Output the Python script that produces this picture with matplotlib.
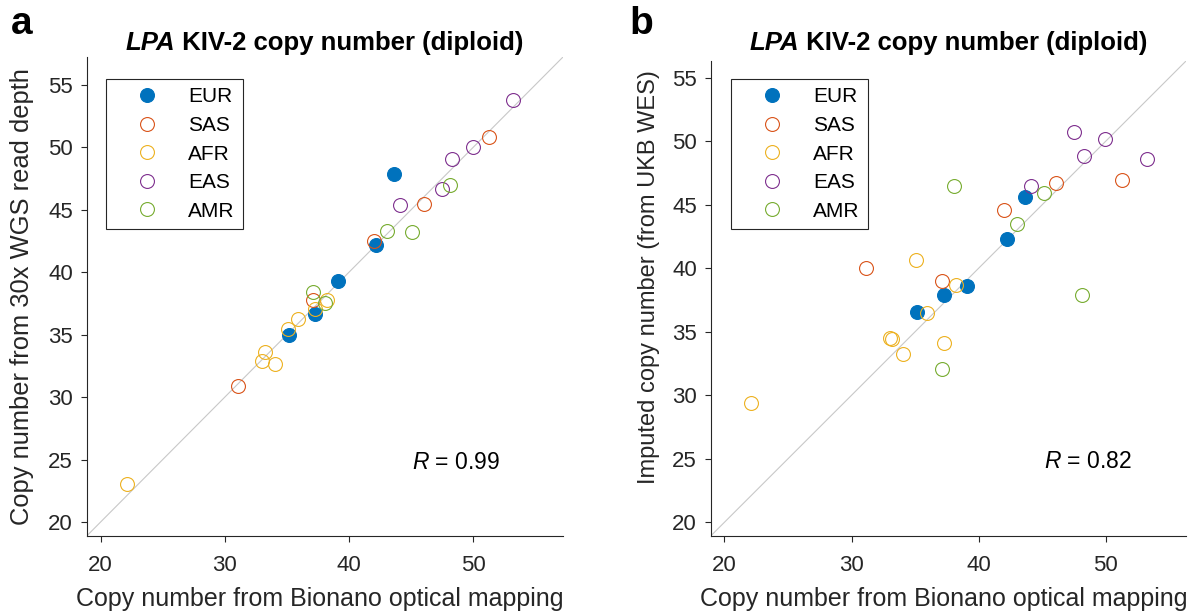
import matplotlib
matplotlib.use('Agg')
import matplotlib.pyplot as plt

plt.rcParams['font.family'] = ['Liberation Sans', 'DejaVu Sans']
plt.rcParams['mathtext.fontset'] = 'custom'
plt.rcParams['mathtext.rm'] = 'Liberation Sans'
plt.rcParams['mathtext.it'] = 'Liberation Sans:italic'

# populations and MATLAB default colours
pops = ['EUR', 'SAS', 'AFR', 'EAS', 'AMR']
pop_colors = ['#0072BD', '#D95319', '#EDB120', '#7E2F8E', '#77AC30']

# copy number from Bionano optical mapping (x, shared by both panels)
eur_bionano = [43.65, 42.2, 39.1, 37.3, 35.17]
sas_bionano = [51.3, 46.05, 42.0, 37.1, 31.1]
afr_bionano = [38.25, 37.26, 35.92, 35.08, 33.2, 33.02, 34.05, 22.1]
eas_bionano = [53.2, 49.95, 48.3, 47.5, 44.08]
amr_bionano = [48.1, 43.03, 45.1, 37.1, 38.08]

# panel a: copy number from 30x WGS read depth
eur_wgs = [47.9, 42.15, 39.26, 36.67, 35.0]
sas_wgs = [50.8, 45.47, 42.47, 37.8, 30.86]
afr_wgs = [37.76, 37.07, 36.27, 35.47, 33.6, 32.87, 32.68, 23.0]
eas_wgs = [53.8, 50.0, 49.05, 46.7, 45.4]
amr_wgs = [46.97, 43.3, 43.2, 38.4, 37.55]

# panel b: imputed copy number from UKB WES
eur_wes = [45.59, 42.27, 38.58, 37.87, 36.56]
sas_wes = [46.95, 46.69, 44.6, 39.0, 40.05]
afr_wes = [38.71, 34.08, 36.48, 40.64, 34.4, 34.52, 33.24, 29.37]
eas_wes = [48.6, 50.14, 48.86, 50.75, 46.45]
amr_wes = [37.87, 43.45, 45.93, 32.04, 46.43]

r_values = ['0.99', '0.82']
ticks = [20, 25, 30, 35, 40, 45, 50, 55]

xs = [eur_bionano, sas_bionano, afr_bionano, eas_bionano, amr_bionano]
ys_a = [eur_wgs, sas_wgs, afr_wgs, eas_wgs, amr_wgs]
ys_b = [eur_wes, sas_wes, afr_wes, eas_wes, amr_wes]

W, H = 1202, 613
fig = plt.figure(figsize=(W / 100, H / 100), dpi=100)

ax_gray = '#262626'
tick_fs = 16
leg_fs = 15
title_fs = 18.5


def draw_panel(rect, ys, lims, ylabel, ylab_fs, ylab_pos, r_text, leg_anchor):
    ax = fig.add_axes(rect)
    ax.plot(lims, lims, color='#c8c8c8', lw=0.8, zorder=1)
    for pop, col, x, y in zip(pops, pop_colors, xs, ys):
        if pop == 'EUR':
            ax.plot(x, y, 'o', ms=10, mfc=col, mec=col, mew=0.8, label=pop, zorder=2)
        else:
            ax.plot(x, y, 'o', ms=10, mfc='none', mec=col, mew=0.8, label=pop, zorder=2)
    ax.set_xlim(lims)
    ax.set_ylim(lims)
    ax.set_xticks([20, 30, 40, 50])
    ax.set_yticks(ticks)
    for s in ['top', 'right']:
        ax.spines[s].set_visible(False)
    for s in ['left', 'bottom']:
        ax.spines[s].set_color(ax_gray)
        ax.spines[s].set_linewidth(0.8)
    ax.tick_params(axis='both', direction='out', length=4, width=0.8,
                   color=ax_gray, labelcolor=ax_gray, labelsize=tick_fs)
    ax.tick_params(axis='x', pad=10)
    ax.tick_params(axis='y', pad=6)
    ax.set_xlabel('Copy number from Bionano optical mapping', fontsize=18,
                  color=ax_gray, va='top')
    ax.xaxis.set_label_coords(0.49, -0.108)
    ax.set_ylabel(ylabel, fontsize=ylab_fs, color=ax_gray)
    ax.yaxis.set_label_coords(*ylab_pos)
    ax.text(45.1, 24.8, r'$\it{R}$ = ' + r_text, fontsize=16.5, va='center', ha='left')
    leg = ax.legend(loc='upper left', bbox_to_anchor=leg_anchor, borderaxespad=0,
                    fontsize=leg_fs, fancybox=False, edgecolor=ax_gray, framealpha=1,
                    handlelength=3.14, handletextpad=0.4, labelspacing=0.46,
                    borderpad=0.4, numpoints=1)
    leg.get_frame().set_linewidth(0.8)
    return ax


ax_a = draw_panel([87 / W, 1 - 535.7 / H, 475.6 / W, 478.3 / H], ys_a, (18.9, 57.2),
                  'Copy number from 30x WGS read depth', 18.4, (-0.111, 0.5),
                  r_values[0], (0.0393, 0.9548))
ax_b = draw_panel([711 / W, 1 - 535.7 / H, 475 / W, 474.7 / H], ys_b, (18.95, 56.3),
                  'Imputed copy number (from UKB WES)', 17.0, (-0.107, 0.545),
                  r_values[1], (0.0415, 0.962))

# titles: italic-bold gene name followed by bold text, centred over each axes
fig.canvas.draw()
renderer = fig.canvas.get_renderer()
for ax in [ax_a, ax_b]:
    t1 = fig.text(0, 0, 'LPA', fontsize=title_fs, fontweight='bold', style='italic',
                  va='baseline')
    t2 = fig.text(0, 0, ' KIV-2 copy number (diploid)', fontsize=title_fs,
                  fontweight='bold', va='baseline')
    w1 = t1.get_window_extent(renderer).width
    w2 = t2.get_window_extent(renderer).width
    bb = ax.get_window_extent(renderer)
    cx = (bb.x0 + bb.x1) / 2
    x0 = cx - (w1 + w2) / 2
    yb = H - 50
    t1.set_position((x0 / W, yb / H))
    t2.set_position(((x0 + w1) / W, yb / H))

fig.text(11 / W, 1 - 34 / H, 'a', fontsize=28, fontweight='bold', va='baseline')
fig.text(629 / W, 1 - 34 / H, 'b', fontsize=28, fontweight='bold', va='baseline')

fig.savefig('out.png', dpi=100)
